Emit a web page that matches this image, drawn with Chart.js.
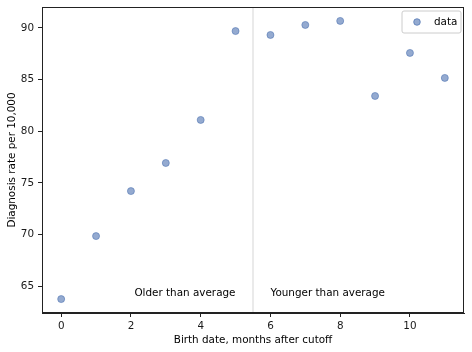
<!DOCTYPE html>
<html><head><meta charset="utf-8">
<script src="https://cdn.jsdelivr.net/npm/chart.js@4"></script>
<style>html,body{margin:0;padding:0;background:#fff}#wrap{width:472px;height:352px}</style>
</head><body><div id="wrap"><canvas id="c" width="472" height="352"></canvas></div>
<script>
const months = [0,1,2,3,4,5,6,7,8,9,10,11];
const rates = [63.74,69.84,74.2,76.92,81.09,89.7,89.32,90.29,90.68,83.41,87.58,85.16];
const xTicks = [0,2,4,6,8,10];
const yTicks = [65,70,75,80,85,90];
const seriesLabel = 'data';
const cutoffLine = 5.5;
const annotations = [{x:2.1,y:64,text:'Older than average'},{x:6.0,y:64,text:'Younger than average'}];
const xTitle = 'Birth date, months after cutoff';
const yTitle = 'Diagnosis rate per 10,000';

const FONT = 'DejaVu Sans';
const FS = 10.4;
const TXT = '#1a1a1a';

const decor = {
  id:'decor',
  beforeDatasetsDraw(chart){
    const ctx=chart.ctx, a=chart.chartArea, xs=chart.scales.x;
    const px=xs.getPixelForValue(cutoffLine);
    ctx.save();
    ctx.strokeStyle='#e5e5e5';ctx.lineWidth=1.6;
    ctx.beginPath();ctx.moveTo(px,a.top);ctx.lineTo(px,a.bottom);ctx.stroke();
    ctx.fillStyle='#000';ctx.font=FS+'px "'+FONT+'"';ctx.textBaseline='alphabetic';ctx.textAlign='left';
    annotations.forEach(t=>{ctx.fillText(t.text,xs.getPixelForValue(t.x),chart.scales.y.getPixelForValue(t.y));});
    ctx.restore();
  },
  afterDraw(chart){
    const ctx=chart.ctx,a=chart.chartArea;
    ctx.save();
    ctx.strokeStyle='#222';ctx.lineWidth=1;
    ctx.strokeRect(Math.round(a.left)+0.5,Math.round(a.top)+0.5,Math.round(a.right-a.left)-1,Math.round(a.bottom-a.top)-1);
    // legend
    const w=59,h=22,x=a.right-3-w,y=a.top+4;
    ctx.beginPath();
    const r=2;
    ctx.moveTo(x+r,y);ctx.lineTo(x+w-r,y);ctx.quadraticCurveTo(x+w,y,x+w,y+r);
    ctx.lineTo(x+w,y+h-r);ctx.quadraticCurveTo(x+w,y+h,x+w-r,y+h);
    ctx.lineTo(x+r,y+h);ctx.quadraticCurveTo(x,y+h,x,y+h-r);
    ctx.lineTo(x,y+r);ctx.quadraticCurveTo(x,y,x+r,y);ctx.closePath();
    ctx.fillStyle='rgba(255,255,255,0.8)';ctx.fill();
    ctx.strokeStyle='#cccccc';ctx.stroke();
    const ds=chart.data.datasets[0];
    ctx.beginPath();ctx.arc(x+15,y+11,3.3,0,Math.PI*2);
    ctx.fillStyle=ds.backgroundColor;ctx.fill();
    ctx.strokeStyle=ds.borderColor;ctx.lineWidth=1;ctx.stroke();
    ctx.fillStyle='#000';ctx.font=FS+'px "'+FONT+'"';ctx.textBaseline='middle';ctx.textAlign='left';
    ctx.fillText(ds.label,x+32,y+11);
    ctx.restore();
  }
};

new Chart(document.getElementById('c'),{
  type:'scatter',
  data:{datasets:[{label:seriesLabel,data:months.map((m,i)=>({x:m,y:rates[i]})),
    backgroundColor:'rgba(76,114,176,0.6)',borderColor:'rgba(76,114,176,0.7)',borderWidth:0.8,pointRadius:3.5,pointHoverRadius:3.5}]},
  options:{
    responsive:false,animation:false,
    layout:{padding:{top:7,right:8,left:0,bottom:0}},
    plugins:{legend:{display:false},tooltip:{enabled:false}},
    scales:{
      x:{type:'linear',min:-0.55,max:11.55,
        afterBuildTicks(s){s.ticks=xTicks.map(v=>({value:v}));},
        afterFit(s){s.height=39;s.paddingLeft=0;s.paddingRight=0;},
        grid:{drawOnChartArea:false,tickLength:4,tickColor:'#222'},
        border:{color:'#222'},
        ticks:{color:TXT,font:{family:FONT,size:FS},padding:3,maxRotation:0},
        title:{display:true,text:xTitle,color:'#000',font:{family:FONT,size:FS},padding:{top:0,bottom:5}}},
      y:{type:'linear',min:62.39,max:92.03,
        afterBuildTicks(s){s.ticks=yTicks.map(v=>({value:v}));},
        afterFit(s){s.width=42;s.paddingTop=0;s.paddingBottom=0;},
        grid:{drawOnChartArea:false,tickLength:4,tickColor:'#222'},
        border:{color:'#222'},
        ticks:{color:TXT,font:{family:FONT,size:FS},padding:4},
        title:{display:true,text:yTitle,color:'#000',font:{family:FONT,size:FS},padding:{top:6,bottom:0}}}
    }
  },
  plugins:[decor]
});
</script></body></html>
